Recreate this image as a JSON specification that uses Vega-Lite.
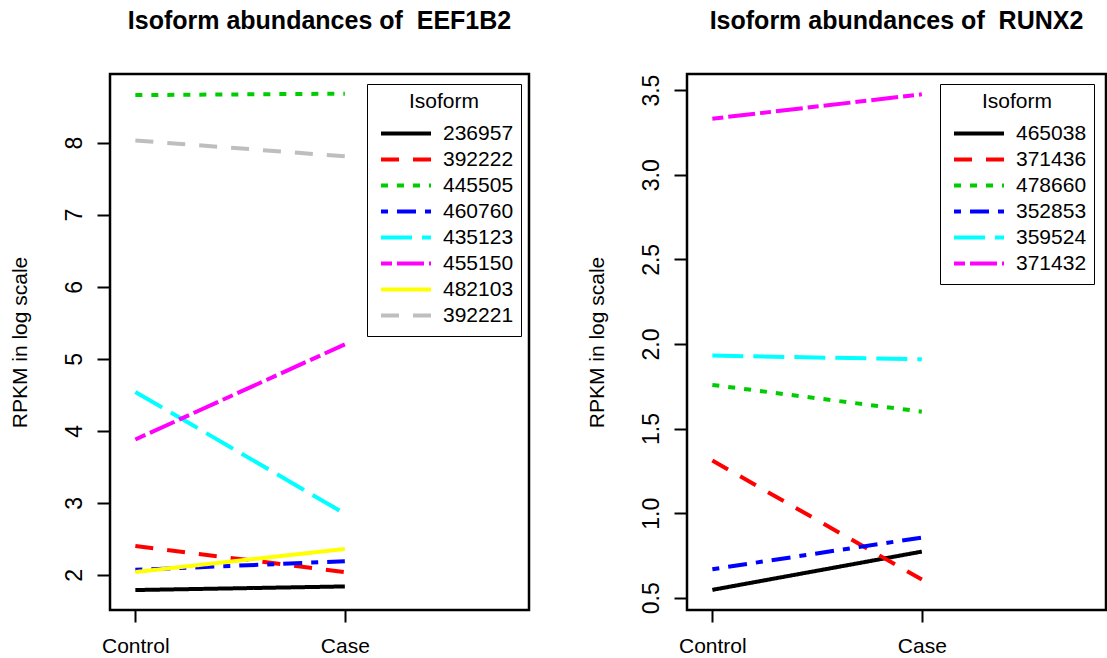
{
  "$schema": "https://vega.github.io/schema/vega-lite/v6.json",
  "background": "white",
  "padding": {"left": 7, "top": 7, "right": 0, "bottom": 0},
  "bounds": "flush",
  "spacing": 158,
  "config": {
    "font": "Liberation Sans",
    "view": {"stroke": "black", "strokeWidth": 2.5},
    "axisX": {"domain": false, "grid": false, "tickSize": 12, "tickWidth": 2, "tickColor": "black", "labelAngle": 0, "labelBaseline": "alphabetic", "labelPadding": 30, "labelFontSize": 21, "labelColor": "black", "title": null},
    "axisY": {"domain": false, "grid": false, "tickSize": 13, "tickWidth": 2, "tickColor": "black", "labelAngle": -90, "labelAlign": "center", "labelBaseline": "alphabetic", "labelPadding": 16, "labelFontSize": 23, "labelColor": "black", "labelOverlap": false, "titleFontSize": 21, "titleFontWeight": "normal", "titleColor": "black", "titleX": -90, "titleY": 268, "titleAngle": -90, "titleAlign": "center", "titleBaseline": "middle"},
    "legend": {"orient": "none", "legendY": 10, "direction": "vertical", "symbolType": "stroke", "symbolSize": 2500, "symbolStrokeWidth": 4, "clipHeight": 25.2, "labelFontSize": 21, "labelColor": "black", "titleFontSize": 21, "titleFontWeight": "normal", "titleColor": "black", "strokeColor": "black", "padding": 7, "symbolOffset": 5, "labelOffset": 10, "titleAnchor": "middle", "titlePadding": 9, "rowPadding": 0},
    "title": {"fontSize": 25, "fontWeight": "bold", "font": "Liberation Sans", "color": "black", "anchor": "middle", "frame": "group", "baseline": "alphabetic", "offset": 40}
  },
  "resolve": {"scale": {"x": "independent", "y": "independent", "color": "independent", "strokeDash": "independent"}, "legend": {"color": "independent", "strokeDash": "independent"}},
  "hconcat": [
    {
      "width": 419,
      "height": 536,
      "title": "Isoform abundances of \u00a0EEF1B2",
      "data": {"values": [
        {"isoform": "236957", "group": "Control", "rpkm": 1.79},
        {"isoform": "236957", "group": "Case", "rpkm": 1.84},
        {"isoform": "392222", "group": "Control", "rpkm": 2.40},
        {"isoform": "392222", "group": "Case", "rpkm": 2.04},
        {"isoform": "445505", "group": "Control", "rpkm": 8.66},
        {"isoform": "445505", "group": "Case", "rpkm": 8.68},
        {"isoform": "460760", "group": "Control", "rpkm": 2.07},
        {"isoform": "460760", "group": "Case", "rpkm": 2.19},
        {"isoform": "435123", "group": "Control", "rpkm": 4.54},
        {"isoform": "435123", "group": "Case", "rpkm": 2.85},
        {"isoform": "455150", "group": "Control", "rpkm": 3.88},
        {"isoform": "455150", "group": "Case", "rpkm": 5.20},
        {"isoform": "482103", "group": "Control", "rpkm": 2.04},
        {"isoform": "482103", "group": "Case", "rpkm": 2.36},
        {"isoform": "392221", "group": "Control", "rpkm": 8.03},
        {"isoform": "392221", "group": "Case", "rpkm": 7.81}
      ]},
      "mark": {"type": "line", "strokeWidth": 4, "strokeCap": "butt"},
      "encoding": {
        "x": {"field": "group", "type": "nominal", "sort": ["Control", "Case"], "scale": {"type": "point", "domain": ["Control", "Case"], "paddingOuter": 0.5565, "align": 0.121}},
        "y": {"field": "rpkm", "type": "quantitative", "title": "RPKM in log scale", "scale": {"domain": [1.513, 8.953], "nice": false, "zero": false}, "axis": {"values": [2, 3, 4, 5, 6, 7, 8]}},
        "color": {"field": "isoform", "type": "nominal", "scale": {"domain": ["236957", "392222", "445505", "460760", "435123", "455150", "482103", "392221"], "range": ["#000000", "#FF0000", "#00CD00", "#0000FF", "#00FFFF", "#FF00FF", "#FFFF00", "#BEBEBE"]}, "legend": {"title": "Isoform", "legendX": 257}},
        "strokeDash": {"field": "isoform", "type": "nominal", "scale": {"domain": ["236957", "392222", "445505", "460760", "435123", "455150", "482103", "392221"], "range": [[1, 0], [18, 14], [7, 9], [7, 9, 19, 9], [31, 10], [11, 5, 27, 5], [1, 0], [18, 14]]}, "legend": {"title": "Isoform", "legendX": 257}}
      }
    },
    {
      "width": 419,
      "height": 536,
      "title": "Isoform abundances of \u00a0RUNX2",
      "data": {"values": [
        {"isoform": "465038", "group": "Control", "rpkm": 0.547},
        {"isoform": "465038", "group": "Case", "rpkm": 0.773},
        {"isoform": "371436", "group": "Control", "rpkm": 1.311},
        {"isoform": "371436", "group": "Case", "rpkm": 0.608},
        {"isoform": "478660", "group": "Control", "rpkm": 1.758},
        {"isoform": "478660", "group": "Case", "rpkm": 1.600},
        {"isoform": "352853", "group": "Control", "rpkm": 0.669},
        {"isoform": "352853", "group": "Case", "rpkm": 0.856},
        {"isoform": "359524", "group": "Control", "rpkm": 1.931},
        {"isoform": "359524", "group": "Case", "rpkm": 1.909},
        {"isoform": "371432", "group": "Control", "rpkm": 3.331},
        {"isoform": "371432", "group": "Case", "rpkm": 3.475}
      ]},
      "mark": {"type": "line", "strokeWidth": 4, "strokeCap": "butt"},
      "encoding": {
        "x": {"field": "group", "type": "nominal", "sort": ["Control", "Case"], "scale": {"type": "point", "domain": ["Control", "Case"], "paddingOuter": 0.5565, "align": 0.121}},
        "y": {"field": "rpkm", "type": "quantitative", "title": "RPKM in log scale", "scale": {"domain": [0.428, 3.595], "nice": false, "zero": false}, "axis": {"values": [0.5, 1, 1.5, 2, 2.5, 3, 3.5], "format": ".1f"}},
        "color": {"field": "isoform", "type": "nominal", "scale": {"domain": ["465038", "371436", "478660", "352853", "359524", "371432"], "range": ["#000000", "#FF0000", "#00CD00", "#0000FF", "#00FFFF", "#FF00FF"]}, "legend": {"title": "Isoform", "legendX": 253}},
        "strokeDash": {"field": "isoform", "type": "nominal", "scale": {"domain": ["465038", "371436", "478660", "352853", "359524", "371432"], "range": [[1, 0], [18, 14], [7, 9], [7, 9, 19, 9], [31, 10], [11, 5, 27, 5]]}, "legend": {"title": "Isoform", "legendX": 253}}
      }
    }
  ]
}
